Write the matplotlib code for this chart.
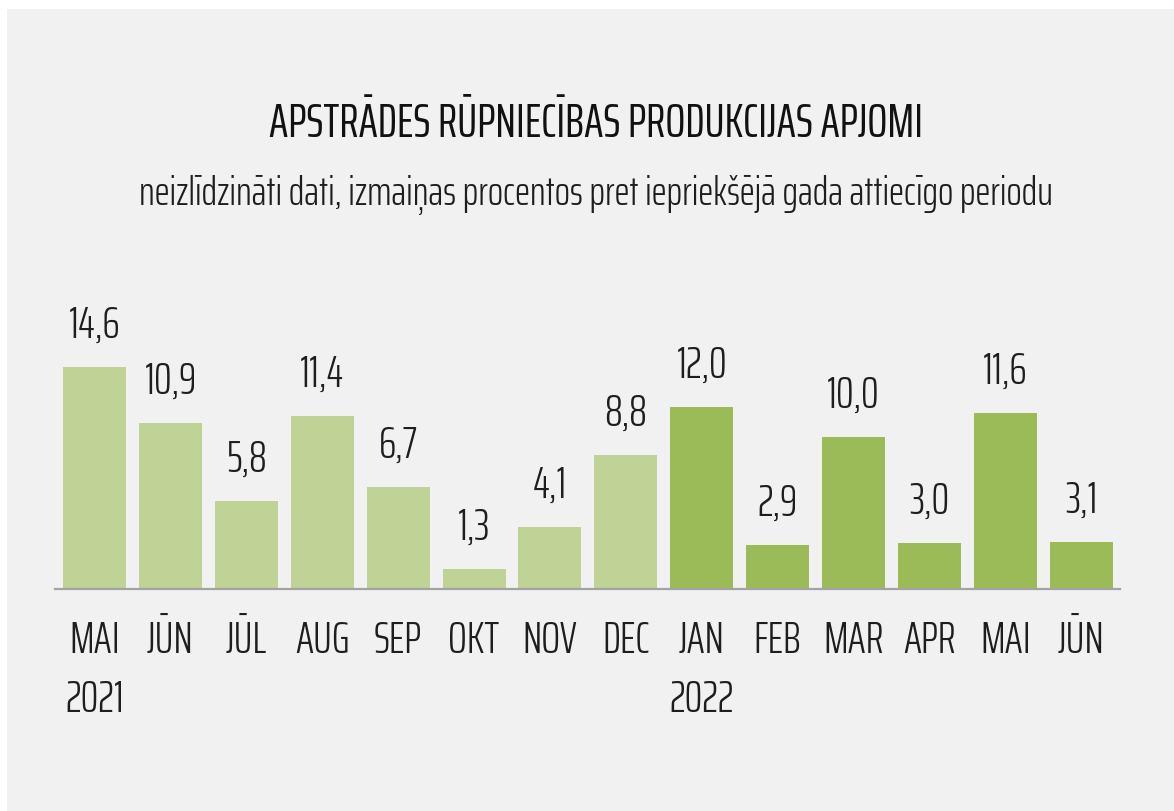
import matplotlib
matplotlib.use("Agg")
import matplotlib.pyplot as plt
from matplotlib.patches import Rectangle

FONT = ["Saira ExtraCondensed", "Fira Sans Extra Condensed", "DejaVu Sans"]
plt.rcParams["font.family"] = FONT

# ---- data ----
months = ["MAI", "JŪN", "JŪL", "AUG", "SEP", "OKT", "NOV", "DEC",
          "JAN", "FEB", "MAR", "APR", "MAI", "JŪN"]
values = [14.6, 10.9, 5.8, 11.4, 6.7, 1.3, 4.1, 8.8,
          12.0, 2.9, 10.0, 3.0, 11.6, 3.1]
years = ["2021", "2022"]
year_start_idx = [0, 8]
title = "APSTRĀDES RŪPNIECĪBAS PRODUKCIJAS APJOMI"
subtitle = "neizlīdzināti dati, izmaiņas procentos pret iepriekšējā gada attiecīgo periodu"

LIGHT = "#bfd396"
DARK = "#9bbb59"
TXT = "#1e1e1e"

W, H = 1174, 811
fig = plt.figure(figsize=(W / 100, H / 100), dpi=100, facecolor="white")
fig.patches.append(Rectangle((7 / W, 0), 1, 1 - 9 / H, transform=fig.transFigure,
                             facecolor="#f1f1f1", edgecolor="none", zorder=-10))

ax = fig.add_axes([55 / W, (H - 589) / H, (1120 - 55) / W, 243.2 / H])
ax.set_facecolor("none")

x = list(range(len(values)))
colors = [LIGHT if i < year_start_idx[1] else DARK for i in x]
ax.bar(x, values, width=0.83, color=colors, zorder=2)
ax.set_xlim(-0.52, len(values) - 1 + 0.51)
ax.set_ylim(0, 16)

FS = 32
for i, v in zip(x, values):
    ax.annotate(f"{v:.1f}".replace(".", ","), xy=(i, v), xytext=(0, 21),
                textcoords="offset points", ha="center", va="baseline",
                fontsize=FS, fontweight=300, color=TXT)

for s in ["top", "right", "left"]:
    ax.spines[s].set_visible(False)
ax.spines["bottom"].set_color("#a3a3a3")
ax.spines["bottom"].set_linewidth(1.6)
ax.set_yticks([])
ax.set_xticks(x, months)
ax.tick_params(axis="x", length=0, pad=46, labelsize=FS, labelcolor=TXT)
for lab in ax.get_xticklabels():
    lab.set_va("baseline")
    lab.set_fontweight(300)

for yr, idx in zip(years, year_start_idx):
    ax.annotate(yr, xy=(idx, 0), xytext=(0, -123 * 0.72), textcoords="offset points",
                ha="center", va="baseline", fontsize=FS, fontweight=300, color=TXT)

fig.text(596 / W, 1 - 137 / H, title, ha="center", va="baseline",
         fontsize=34, fontweight=400, color="#111111")
fig.text(596 / W, 1 - 205 / H, subtitle, ha="center", va="baseline",
         fontsize=29.2, fontweight=300, color=TXT)

fig.savefig("out.png", dpi=100, facecolor="white")
